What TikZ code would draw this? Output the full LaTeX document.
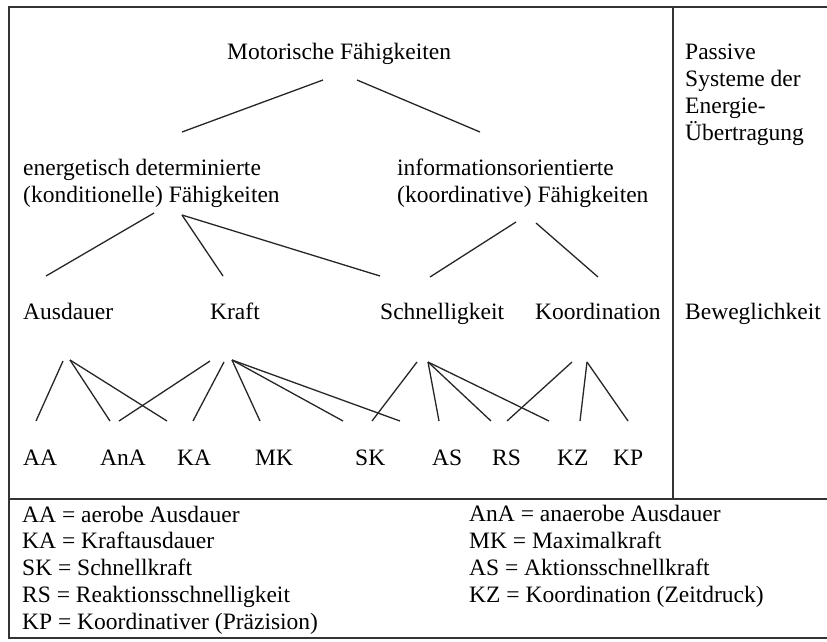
\documentclass[tikz,border=0pt]{standalone}
\usepackage{fontspec}
\setmainfont{Liberation Serif}
\usetikzlibrary{calc}

\begin{document}
\begin{tikzpicture}[x=1pt,y=-1pt,
    lbl/.style={anchor=base west, inner sep=0pt, font=\fontsize{23.5}{26.7}\selectfont},
    link/.style={line width=1.3pt, black!85},
    frame/.style={line width=1.5pt, black!80}]
  \useasboundingbox (0,0) rectangle (827,641);
  \clip (0,0) rectangle (827,641);
  % frame
  \draw[frame] (9,7) rectangle (832,638);
  \draw[frame] (673,7) -- (673,499);
  \draw[frame] (9,499) -- (832,499);
  % tree (multi-line texts sit on the baseline of their last line)
  \node[lbl] (mf) at (227,59) {Motorische Fähigkeiten};
  \node[lbl, align=left] (en) at (23,202) {energetisch determinierte\\(konditionelle) Fähigkeiten};
  \node[lbl, align=left] (inf) at (397,202) {informationsorientierte\\(koordinative) Fähigkeiten};
  \node[lbl, align=left] (pas) at (685,140) {Passive\\Systeme der\\Energie-\\Übertragung};
  \node[lbl] (aus) at (23,319) {Ausdauer};
  \node[lbl] (kra) at (210,319) {Kraft};
  \node[lbl] (sch) at (380,319) {Schnelligkeit};
  \node[lbl] (koo) at (535,319) {Koordination};
  \node[lbl] (bew) at (685,319) {Beweglichkeit};
  \node[lbl] (aa) at (23,465) {AA};
  \node[lbl] (ana) at (100,465) {AnA};
  \node[lbl] (ka) at (177,465) {KA};
  \node[lbl] (mk) at (255,465) {MK};
  \node[lbl] (sk) at (355,465) {SK};
  \node[lbl] (as) at (432,465) {AS};
  \node[lbl] (rs) at (492,465) {RS};
  \node[lbl] (kz) at (557,465) {KZ};
  \node[lbl] (kp) at (613,465) {KP};
  % legend
  \node[lbl, align=left] (legl) at (22,629) {AA = aerobe Ausdauer\\KA = Kraftausdauer\\SK = Schnellkraft\\RS = Reaktionsschnelligkeit\\KP = Koordinativer (Präzision)};
  \node[lbl, align=left] (legr) at (469,602) {AnA = anaerobe Ausdauer\\MK = Maximalkraft\\AS = Aktionsschnellkraft\\KZ = Koordination (Zeitdruck)};
  % connectors
  \draw[link] ($(mf.base west)+(96,21)$) -- ($(en.base west)+(159,-70)$);
  \draw[link] ($(mf.base west)+(130,21)$) -- ($(inf.base west)+(83,-70)$);
  \draw[link] ($(en.base west)+(131,11)$) -- ($(aus.base west)+(23,-43)$);
  \draw[link] ($(en.base west)+(159,13)$) -- ($(kra.base west)+(13,-43)$);
  \draw[link] ($(en.base west)+(159,13)$) -- ($(sch.base west)+(0,-43)$);
  \draw[link] ($(inf.base west)+(119,20)$) -- ($(sch.base west)+(50,-42)$);
  \draw[link] ($(inf.base west)+(139,21)$) -- ($(koo.base west)+(63,-42)$);
  \draw[link] ($(aus.base west)+(40,42)$) -- ($(aa.base west)+(13,-44)$);
  \draw[link] ($(aus.base west)+(47,41)$) -- ($(ana.base west)+(10,-44)$);
  \draw[link] ($(aus.base west)+(47,41)$) -- ($(ka.base west)+(-10,-44)$);
  \draw[link] ($(kra.base west)+(0,42)$) -- ($(ana.base west)+(19,-44)$);
  \draw[link] ($(kra.base west)+(14,43)$) -- ($(ka.base west)+(16,-44)$);
  \draw[link] ($(kra.base west)+(22,41)$) -- ($(mk.base west)+(5,-44)$);
  \draw[link] ($(kra.base west)+(22,41)$) -- ($(sk.base west)+(-12,-44)$);
  \draw[link] ($(kra.base west)+(22,41)$) -- ($(as.base west)+(-32,-44)$);
  \draw[link] ($(sch.base west)+(37,43)$) -- ($(sk.base west)+(17,-44)$);
  \draw[link] ($(sch.base west)+(48,43)$) -- ($(as.base west)+(7,-44)$);
  \draw[link] ($(sch.base west)+(48,43)$) -- ($(rs.base west)+(-1,-44)$);
  \draw[link] ($(sch.base west)+(48,43)$) -- ($(kz.base west)+(-8,-44)$);
  \draw[link] ($(koo.base west)+(37,43)$) -- ($(rs.base west)+(15,-44)$);
  \draw[link] ($(koo.base west)+(52,43)$) -- ($(kz.base west)+(23,-44)$);
  \draw[link] ($(koo.base west)+(52,43)$) -- ($(kp.base west)+(15,-44)$);
\end{tikzpicture}
\end{document}
